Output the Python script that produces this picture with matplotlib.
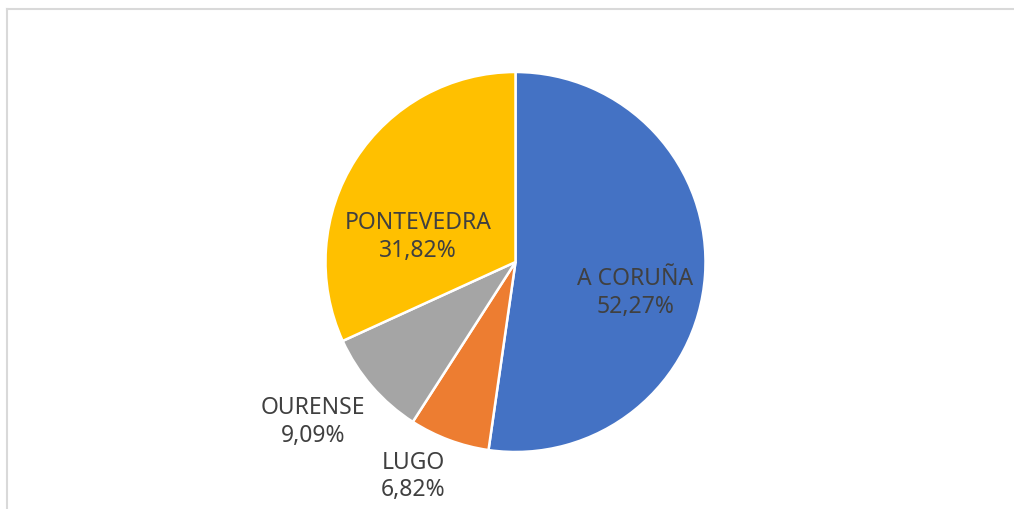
import numpy as np
import matplotlib
matplotlib.use("Agg")
import matplotlib.pyplot as plt
from matplotlib.lines import Line2D

categories = ["A CORUÑA", "LUGO", "OURENSE", "PONTEVEDRA"]
shares = [52.27, 6.82, 9.09, 31.82]
pct_labels = ["52,27%", "6,82%", "9,09%", "31,82%"]
colors = ["#4472C4", "#ED7D31", "#A5A5A5", "#FFC000"]
# label placement: (distance in pie radii, angle in degrees)
label_pos = [(0.65, -14.5), (1.25, -115.5), (1.36, -141.7), (0.53, 165.6)]

W, H = 1014, 509
fig = plt.figure(figsize=(W / 100, H / 100), dpi=100)
ax = fig.add_axes([0, 0, 1, 1])

cx, cy, R = 515.5, H - 262, 190
ax.pie(shares, colors=colors, startangle=90, counterclock=False,
       center=(cx, cy), radius=R, frame=True,
       wedgeprops=dict(edgecolor="white", linewidth=1.8))
ax.set_xlim(0, W)
ax.set_ylim(0, H)
ax.set_aspect("equal")
ax.axis("off")

for name, pct, (d, ang) in zip(categories, pct_labels, label_pos):
    a = np.deg2rad(ang)
    ax.text(cx + d * R * np.cos(a), cy + d * R * np.sin(a), f"{name}\n{pct}",
            ha="center", va="center", fontsize=16.5, color="#404040",
            family="Noto Sans", linespacing=1.2)

fig.add_artist(Line2D([7 / W, 7 / W], [0, 1 - 9 / H], color="#d9d9d9", lw=1.5))
fig.add_artist(Line2D([7 / W, 1], [1 - 9 / H, 1 - 9 / H], color="#d9d9d9", lw=1.5))

fig.savefig("out.png", dpi=100, facecolor="white")
